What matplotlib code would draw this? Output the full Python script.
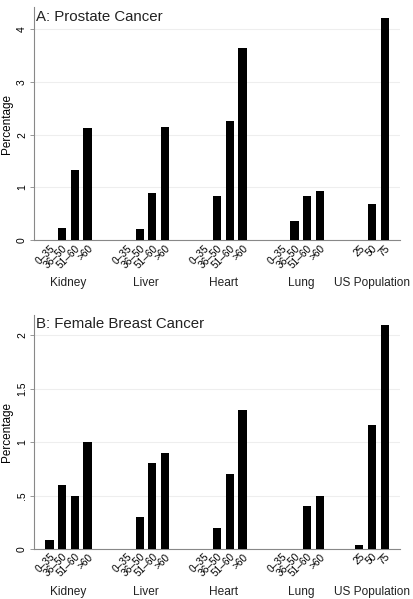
import matplotlib
matplotlib.use("Agg")
import matplotlib.pyplot as plt

plt.rcParams['font.family'] = ['Liberation Sans', 'DejaVu Sans']

organs = ["Kidney", "Liver", "Heart", "Lung"]
organ_ages = ["0\u201335", "36\u201350", "51\u201360", ">60"]
us_ages = ["25", "50", "75"]
groups = organs + ["US Population"]

prostate = [
    [0, 0.23, 1.34, 2.12],   # Kidney
    [0, 0.21, 0.89, 2.15],   # Liver
    [0, 0.84, 2.27, 3.65],   # Heart
    [0, 0.37, 0.83, 0.94],   # Lung
    [0, 0.68, 4.22],         # US population
]
breast = [
    [0.08, 0.60, 0.50, 1.00],
    [0, 0.30, 0.80, 0.90],
    [0, 0.20, 0.70, 1.30],
    [0, 0, 0.40, 0.50],
    [0.04, 1.16, 2.09],
]

group_step = 6.1

fig = plt.figure(figsize=(4.14, 5.99), dpi=100)
ax_a = fig.add_axes([0.0821, 0.599, 0.884, 0.389])
ax_b = fig.add_axes([0.0821, 0.0835, 0.884, 0.391])


def draw_panel(ax, data, title, yticks, yticklabels, ytop):
    xs, labels = [], []
    for g, vals in enumerate(data):
        cats = us_ages if g == len(data) - 1 else organ_ages
        pos = [g * group_step + i for i in range(len(vals))]
        ax.bar(pos, vals, width=0.65, color="black", zorder=3)
        xs += pos
        labels += cats
        ax.annotate(groups[g], xy=(sum(pos) / len(pos), 0), xycoords=("data", "axes fraction"),
                    xytext=(0, -31), textcoords="offset points",
                    ha="center", va="center", fontsize=8.6, color="#222222")
    ax.set_xticks(xs)
    ax.set_xticklabels(labels, rotation=45, ha="right", rotation_mode="anchor", fontsize=7.3)
    ax.tick_params(axis="x", length=0, pad=2)
    ax.set_xlim(-1.22, 27.6)
    ax.set_ylim(0, ytop)
    ax.set_yticks(yticks)
    ax.set_yticklabels(yticklabels, rotation=90, va="center", fontsize=7.5)
    ax.tick_params(axis="y", length=3, width=0.6, color="#888888", pad=2)
    ax.grid(axis="y", color="#eeeeee", linewidth=0.8, zorder=0)
    for s in ("top", "right"):
        ax.spines[s].set_visible(False)
    for s in ("left", "bottom"):
        ax.spines[s].set_color("#888888")
        ax.spines[s].set_linewidth(0.8)
    ax.set_ylabel("Percentage", fontsize=8.5, labelpad=3)
    ax.text(0.005, 0.99, title, transform=ax.transAxes, ha="left", va="top",
            fontsize=10.8, color="#222222")


draw_panel(ax_a, prostate, "A: Prostate Cancer", [0, 1, 2, 3, 4], ["0", "1", "2", "3", "4"], 4.42)
draw_panel(ax_b, breast, "B: Female Breast Cancer", [0, 0.5, 1, 1.5, 2], ["0", ".5", "1", "1.5", "2"], 2.19)

fig.savefig("out.png", dpi=100)
